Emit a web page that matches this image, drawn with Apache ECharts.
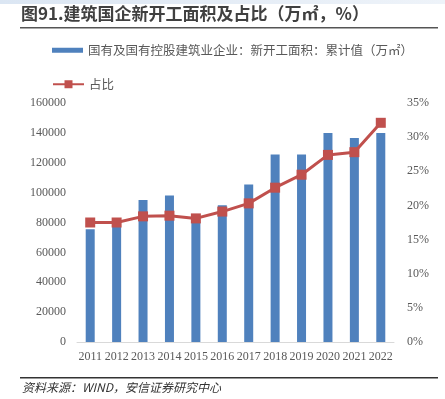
<!DOCTYPE html>
<html>
<head>
<meta charset="utf-8">
<script src="https://cdn.jsdelivr.net/npm/echarts@6/dist/echarts.min.js"></script>
<style>
  html, body { margin: 0; padding: 0; background: #fff; }
  #chart { width: 445px; height: 399px; }
</style>
</head>
<body>
<div id="chart"></div>
<script>
const years = ['2011', '2012', '2013', '2014', '2015', '2016', '2017', '2018', '2019', '2020', '2021', '2022']
const newStartArea = [75500, 77000, 95000, 98000, 80000, 91500, 105500, 125500, 125500, 140000, 136500, 140000]
const sharePct = [17.5, 17.5, 18.4, 18.5, 18.1, 19.1, 20.3, 22.6, 24.5, 27.4, 27.8, 32.1]
const barName = '国有及国有控股建筑业企业：新开工面积：累计值（万㎡）'
const lineName = '占比'

const chart = echarts.init(document.getElementById('chart'))
const tickFont = { color: '#595959', fontFamily: 'Liberation Serif', fontSize: 12 }
const legendText = { color: '#595959', fontSize: 12.5, fontFamily: 'Noto Sans CJK SC' }

chart.setOption({
  animation: false,
  graphic: [
    {
      type: 'rect',
      shape: { x: 0, y: 0, width: 445, height: 4 },
      style: {
        fill: new echarts.graphic.LinearGradient(0, 0, 1, 0, [
          { offset: 0, color: '#dbe6f3' },
          { offset: 1, color: '#eef3f9' }
        ])
      }
    },
    {
      type: 'text',
      left: 21,
      top: 5,
      style: {
        text: '图91.建筑国企新开工面积及占比（万㎡，%）',
        font: 'bold 17px "Noto Sans CJK SC"',
        fill: '#404040'
      }
    },
    { type: 'rect', shape: { x: 20, y: 27, width: 418, height: 1.5 }, style: { fill: '#555' } },
    { type: 'rect', shape: { x: 20, y: 377, width: 418, height: 1.5 }, style: { fill: '#333' } },
    {
      type: 'text',
      left: 22,
      top: 381,
      style: {
        text: '资料来源：WIND，安信证券研究中心',
        font: 'italic 12px "Noto Sans CJK SC"',
        fill: '#333'
      }
    }
  ],
  legend: [
    {
      left: 47,
      top: 39,
      itemWidth: 31,
      itemHeight: 5,
      textStyle: legendText,
      data: [{ name: barName, icon: 'rect', itemStyle: { color: '#4f81bd' } }]
    },
    {
      left: 47,
      top: 73,
      itemWidth: 31,
      itemHeight: 10,
      textStyle: legendText,
      data: [{ name: lineName }]
    }
  ],
  grid: { left: 77, right: 51, top: 103, bottom: 57, containLabel: false },
  xAxis: {
    type: 'category',
    data: years,
    axisLine: { lineStyle: { color: '#d9d9d9' } },
    axisTick: { show: false },
    axisLabel: { ...tickFont, margin: 9, interval: 0 }
  },
  yAxis: [
    {
      type: 'value',
      min: 0,
      max: 160000,
      interval: 20000,
      splitLine: { show: false },
      axisLine: { show: false },
      axisTick: { show: false },
      axisLabel: { ...tickFont, margin: 11, formatter: v => String(v) }
    },
    {
      type: 'value',
      min: 0,
      max: 35,
      interval: 5,
      splitLine: { show: false },
      axisLine: { show: false },
      axisTick: { show: false },
      axisLabel: { ...tickFont, margin: 13, formatter: '{value}%' }
    }
  ],
  series: [
    {
      name: barName,
      type: 'bar',
      data: newStartArea,
      barWidth: 9,
      itemStyle: { color: '#4f81bd' }
    },
    {
      name: lineName,
      type: 'line',
      yAxisIndex: 1,
      data: sharePct,
      symbol: 'rect',
      symbolSize: 10,
      lineStyle: { color: '#c0504d', width: 3 },
      itemStyle: { color: '#c0504d' }
    }
  ]
})
</script>
</body>
</html>
